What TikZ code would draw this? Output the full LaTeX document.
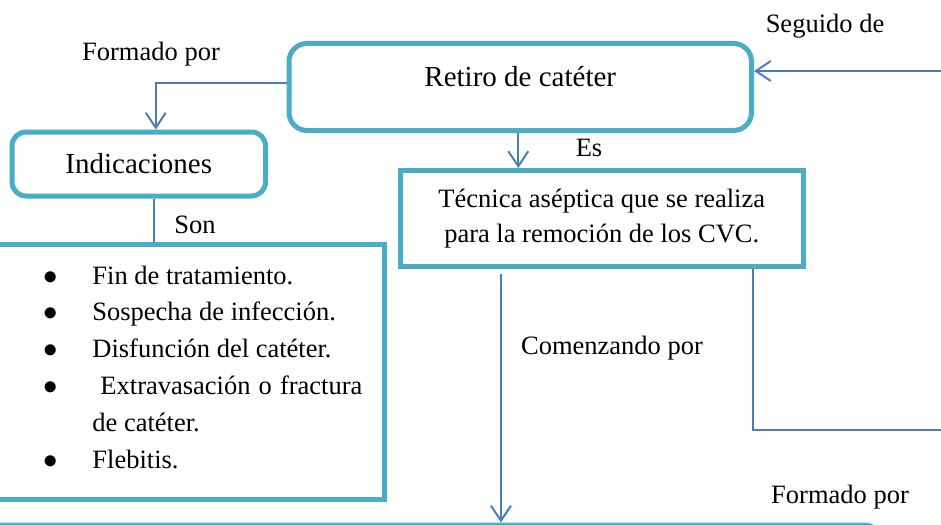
\documentclass[tikz,border=0pt]{standalone}
\usepackage{fontspec}
\setmainfont{Liberation Serif}
\usetikzlibrary{arrows.meta, positioning}

\definecolor{boxteal}{RGB}{75,172,198}
\definecolor{linkblue}{RGB}{74,126,187}

\begin{document}
\begin{tikzpicture}[x=0.5pt, y=-0.5pt,
    box/.style={draw=boxteal, line width=2.5pt, inner sep=0pt},
    roundbox/.style={box, rounded corners=9pt},
    link/.style={draw=linkblue, line width=1pt},
    arrow/.style={link, -{Straight Barb[length=7.5pt, width=10pt]}},
    lbl/.style={font=\fontsize{13.25}{16}\selectfont, anchor=base, inner sep=0pt}]

    % Frame with the size of the page
    \useasboundingbox (0,0) rectangle (941,524);
    \clip (0,0) rectangle (941,524);

    % Top box
    \node[roundbox, minimum width=231.25pt, minimum height=43.5pt,
          font=\fontsize{14.5}{17}\selectfont, text height=10pt, text depth=10pt]
          (retiro) at (520.25,87) {Retiro de catéter};

    % Left box
    \node[roundbox, rounded corners=7pt, minimum width=126.75pt, minimum height=32pt,
          font=\fontsize{14.5}{17}\selectfont] (indic) at (138.75,164) {Indicaciones};

    % Definition box
    \node[box, minimum width=201.25pt, minimum height=47.75pt, align=center,
          font=\fontsize{13.25}{17.5}\selectfont] (tecnica) at (601.75,218.25)
          {Técnica aséptica que se realiza\\para la remoción de los CVC.};

    % List box (its left side runs off the page)
    \node[box, minimum width=197.25pt, minimum height=127.5pt] (lista) at (187.25,371.5) {};

    % Items of the list
    \node[anchor=base west, inner sep=0pt, font=\fontsize{13.25}{18.4}\selectfont]
          (items) at (43,284) {%
      \begin{tabular}[t]{@{}p{24.5pt}@{}p{135pt}@{}}
        $\bullet$ & Fin de tratamiento.\\
        $\bullet$ & Sospecha de infección.\\
        $\bullet$ & Disfunción del catéter.\\
        $\bullet$ & \ Extravasación o fractura de catéter.\\
        $\bullet$ & Flebitis.
      \end{tabular}};

    % Bottom box, only its top edge is seen
    \node[roundbox, minimum width=451pt, minimum height=37.5pt] (paso) at (431,562.5) {};

    % Free ends on the right side
    \coordinate (seguido) at (950,71);
    \coordinate (salida) at (950,430);

    % Connectors
    \draw[arrow] ([yshift=2pt]retiro.west) -| ([xshift=8.5pt]indic.north);
    \draw[link] ([xshift=7.5pt]indic.south) -- ([xshift=7.5pt]indic.south |- lista.north);
    \draw[arrow] ([xshift=-1pt]retiro.south) -- ([xshift=-1pt]retiro.south |- tecnica.north);
    \draw[arrow] (seguido) -- (seguido -| retiro.east);
    \draw[link] ([xshift=75.6pt]tecnica.south) |- (salida);
    \draw[arrow] ([xshift=-50.4pt,yshift=-2.5pt]tecnica.south)
        -- ([xshift=-50.4pt]tecnica.south |- paso.north);

    % Labels of the connectors
    \node[lbl] (formado) at (151,61) {Formado por};
    \node[lbl] (son) at (195,233) {Son};
    \node[lbl] (es) at (589,156) {Es};
    \node[lbl] (seguidoLbl) at (825,33) {Seguido de};
    \node[lbl] (comenzando) at (612,354) {Comenzando por};
    \node[lbl] (formadoBajo) at (840,503) {Formado por};
\end{tikzpicture}
\end{document}
